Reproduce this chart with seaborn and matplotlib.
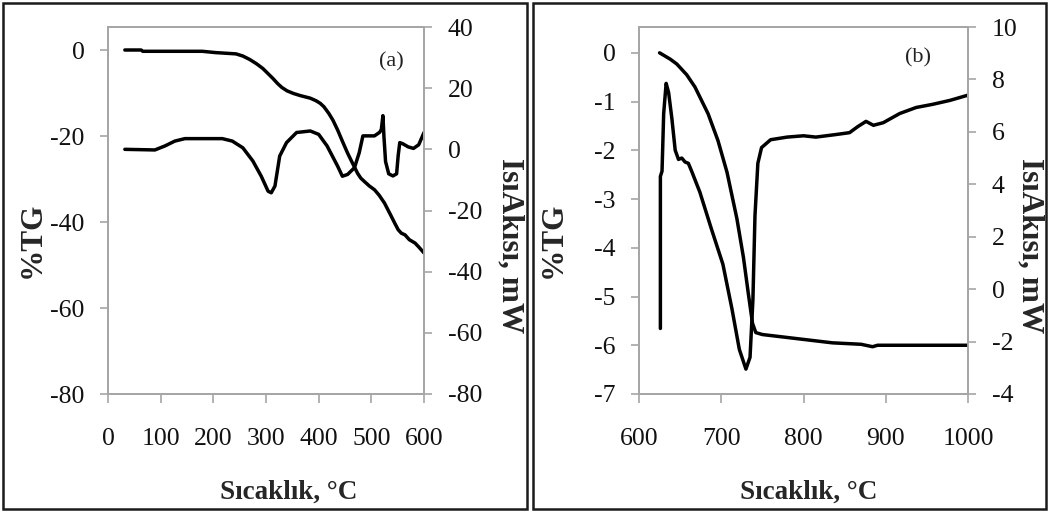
import matplotlib
matplotlib.use("Agg")
import matplotlib.pyplot as plt
import seaborn as sns
import pandas as pd
from matplotlib.patches import Rectangle

# ---------------- data ----------------
# panel (a)
tg_a_temp = [32, 63, 66, 179, 204, 230, 243, 256, 269, 282, 294, 313, 322, 330, 340,
             352, 365, 384, 395, 403, 410, 419, 427, 436, 445, 455, 465, 474, 480,
             487, 496, 506, 515, 525, 538, 545, 551, 557, 564, 572, 583, 590, 600]
tg_a_val = [0.0, 0.0, -0.3, -0.3, -0.6, -0.8, -0.9, -1.4, -2.2, -3.2, -4.3, -6.6,
            -7.8, -8.7, -9.5, -10.1, -10.6, -11.2, -11.8, -12.4, -13.2, -14.7, -16.3,
            -18.6, -21.2, -24.0, -26.5, -28.7, -29.8, -30.6, -31.6, -32.5, -33.8,
            -35.6, -38.7, -40.4, -41.8, -42.6, -43.0, -44.1, -44.9, -45.8, -47.2]
dsc_a_temp = [32, 89, 108, 127, 146, 179, 217, 236, 256, 275, 291, 304, 310, 317,
              326, 339, 358, 384, 400, 416, 436, 445, 455, 468, 477, 484, 506, 516,
              519, 522, 524, 527, 533, 541, 548, 551, 554, 560, 570, 580, 590, 600]
dsc_a_val = [0.0, -0.2, 1.1, 2.7, 3.5, 3.5, 3.5, 2.7, 0.5, -3.8, -8.8, -13.7, -14.2,
             -12.0, -2.2, 2.2, 5.5, 6.0, 4.9, 1.1, -5.5, -8.8, -8.2, -6.0, -1.1, 4.4,
             4.4, 5.6, 6.5, 11.0, 4.0, -4.0, -8.0, -8.7, -8.0, -2.0, 2.2, 1.8, 0.8,
             0.3, 1.5, 5.5]

# panel (b)
tg_b_temp = [625, 638, 646, 658, 668, 684, 696, 707, 719, 727, 733, 738, 742, 750,
             795, 835, 870, 884, 890, 1000]
tg_b_val = [0.0, -0.13, -0.23, -0.45, -0.70, -1.25, -1.80, -2.45, -3.40, -4.20,
            -4.95, -5.55, -5.74, -5.78, -5.87, -5.95, -5.98, -6.03, -6.0, -6.0]
dsc_b_temp = [626, 626, 628, 630, 633, 636, 640, 644, 648, 652, 656, 660, 664, 674,
              688, 702, 713, 722, 730, 735, 738.5, 741, 744.5, 749, 760, 780, 800,
              815, 840, 856, 866, 876, 885, 897, 917, 937, 957, 978, 1000]
dsc_b_val = [-1.5, 4.3, 4.5, 6.7, 7.85, 7.5, 6.5, 5.3, 4.95, 5.0, 4.85, 4.8, 4.5,
             3.7, 2.3, 0.95, -0.75, -2.3, -3.05, -2.6, -0.4, 2.8, 4.8, 5.4, 5.7,
             5.8, 5.85, 5.8, 5.9, 5.97, 6.2, 6.4, 6.25, 6.35, 6.7, 6.93, 7.05, 7.2,
             7.4]

# ticks
xticks_a = [0, 100, 200, 300, 400, 500, 600]
yticks_a_left = [0, -20, -40, -60, -80]
yticks_a_right = [40, 20, 0, -20, -40, -60, -80]
xticks_b = [600, 700, 800, 900, 1000]
yticks_b_left = [0, -1, -2, -3, -4, -5, -6, -7]
yticks_b_right = [10, 8, 6, 4, 2, 0, -2, -4]

xlabel = "Sıcaklık, °C"
ylabel_left = "%TG"
ylabel_right = "IsıAkısı, mW"
panel_tags = ["(a)", "(b)"]

# ---------------- style ----------------
sns.set_style("white")
plt.rcParams["font.family"] = ["Liberation Serif", "DejaVu Serif"]
plt.rcParams["axes.unicode_minus"] = False

W, H = 1049, 512
fig = plt.figure(figsize=(W / 100, H / 100), dpi=100)
fig.patch.set_facecolor("white")

SPINE = "#a6a6a6"
LW = 2.5


def px_axes(left, right, top, bottom):
    return [left / W, (H - bottom) / H, (right - left) / W, (bottom - top) / H]


def style_axis(ax, side):
    for s in ax.spines.values():
        s.set_color(SPINE)
        s.set_linewidth(1.3)
    ax.tick_params(axis="y", which="both", direction="out", length=6, width=1.2,
                   color=SPINE, labelsize=18.5, pad=11, labelcolor="#111111",
                   left=(side == "left"), right=(side == "right"),
                   labelleft=(side == "left"), labelright=(side == "right"))


def panel(rect, tg_t, tg_v, dsc_t, dsc_v, xt, ytl, ytr, xlim, yl, yr, tag, tagpos,
          xlab_x, ylab_l_x, ylab_r_x):
    ax = fig.add_axes(rect)
    ax2 = ax.twinx()
    df_tg = pd.DataFrame({"T": tg_t, "v": tg_v})
    df_dsc = pd.DataFrame({"T": dsc_t, "v": dsc_v})
    sns.lineplot(data=df_tg, x="T", y="v", ax=ax, color="black", lw=LW,
                 estimator=None, sort=False)
    sns.lineplot(data=df_dsc, x="T", y="v", ax=ax2, color="black", lw=LW,
                 estimator=None, sort=False)
    ax.set_xlim(*xlim)
    ax.set_ylim(*yl)
    ax2.set_ylim(*yr)
    ax.set_xticks(xt)
    ax.set_xticklabels([str(v) for v in xt])
    ax.set_yticks(ytl)
    ax.set_yticklabels([str(v) for v in ytl])
    ax2.set_yticks(ytr)
    ax2.set_yticklabels([str(v) for v in ytr])
    style_axis(ax, "left")
    style_axis(ax2, "right")
    ax.tick_params(axis="x", direction="out", length=6.5, width=1.2, color=SPINE,
                   labelsize=18.5, pad=18, labelcolor="#111111", bottom=True)
    ax.set_xlabel(xlabel, fontsize=19.5, fontweight="bold")
    ax.xaxis.set_label_coords(xlab_x, -0.267)
    ax.xaxis.label.set_va("center")
    ax.set_ylabel(ylabel_left, fontsize=22.5, fontweight="bold")
    ax.yaxis.set_label_coords(ylab_l_x, 0.42)
    ax.yaxis.label.set_va("center")
    ax2.set_ylabel(ylabel_right, fontsize=22.5, fontweight="bold", rotation=270)
    ax2.yaxis.set_label_coords(ylab_r_x, 0.405)
    ax2.yaxis.label.set_va("center")
    ax.text(tagpos[0], tagpos[1], tag, transform=ax.transAxes, fontsize=16,
            ha="center", va="center", color="#222222")
    ax.set_zorder(ax2.get_zorder() + 1)
    ax.patch.set_visible(False)
    return ax, ax2


panel(px_axes(108, 424, 27, 394), tg_a_temp, tg_a_val, dsc_a_temp, dsc_a_val,
      xticks_a, yticks_a_left, yticks_a_right, (0, 600), (-80, 5.35), (-80, 40),
      panel_tags[0], (0.896, 0.905), 0.573, -0.24, 1.272)

panel(px_axes(639, 968, 27, 394), tg_b_temp, tg_b_val, dsc_b_temp, dsc_b_val,
      xticks_b, yticks_b_left, yticks_b_right, (600, 1000), (-7, 0.53), (-4, 10),
      panel_tags[1], (0.848, 0.9155), 0.516, -0.26, 1.189)

# panel frames
for x0, x1 in [(3, 527), (533, 1046)]:
    fig.add_artist(Rectangle((x0 / W, (H - 509) / H), (x1 - x0) / W, 506 / H,
                             transform=fig.transFigure, fill=False,
                             edgecolor="#1a1a1a", linewidth=1.8))

fig.savefig("out.png", dpi=100)
